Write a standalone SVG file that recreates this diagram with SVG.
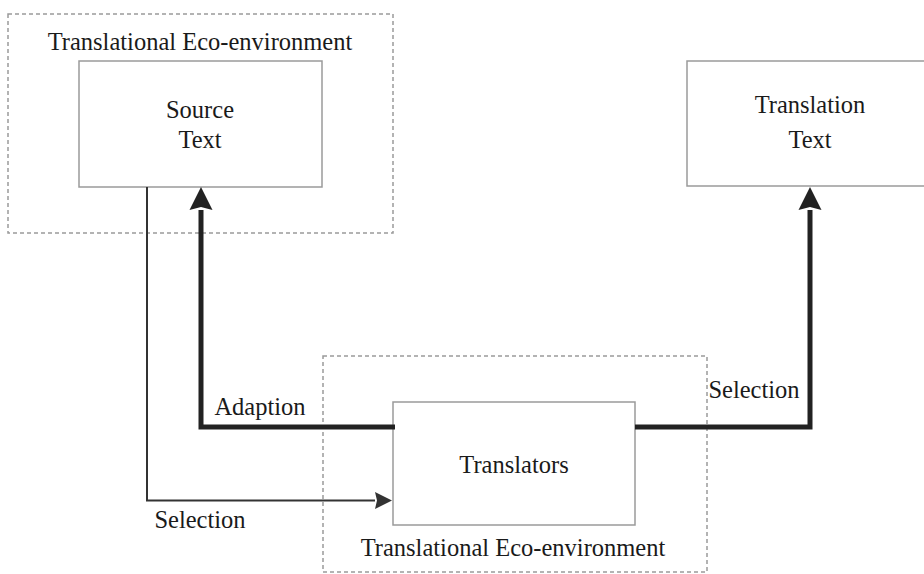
<svg xmlns="http://www.w3.org/2000/svg" width="924" height="574" viewBox="0 0 924 574">
<defs>
<style>
.env{fill:none;stroke:#9a9a9a;stroke-width:1.5;stroke-dasharray:4 3}
.box{fill:#fff;stroke:#9a9a9a;stroke-width:1.5}
.t{font-family:"Liberation Serif","Times New Roman",serif;font-size:24.5px;fill:#1a1a1a;text-anchor:middle}
.thick{fill:none;stroke:#222;stroke-width:5;stroke-linejoin:miter}
.thin{fill:none;stroke:#333;stroke-width:2}
</style>
<marker id="bigArrow" markerUnits="userSpaceOnUse" markerWidth="24" markerHeight="24" refX="0" refY="11.5" orient="auto" viewBox="0 0 24 23">
<path d="M0,0 L23,11.5 L0,23 L3,11.5 Z" fill="#222"/>
</marker>
<marker id="smallArrow" markerUnits="userSpaceOnUse" markerWidth="18" markerHeight="18" refX="0" refY="8.5" orient="auto" viewBox="0 0 18 17">
<path d="M0,0 L17,8.5 L0,17 L2,8.5 Z" fill="#333"/>
</marker>
</defs>
<g id="env-top">
<rect class="env" x="8" y="14" width="385" height="219"/>
<text class="t" x="200" y="50">Translational Eco-environment</text>
</g>
<g id="env-bottom">
<rect class="env" x="323" y="356" width="384" height="216"/>
<text class="t" x="513" y="556">Translational Eco-environment</text>
</g>
<g id="source-text">
<rect class="box" x="79" y="61" width="243" height="126"/>
<text class="t" x="200" y="118">Source</text>
<text class="t" x="200" y="148">Text</text>
</g>
<g id="translation-text">
<rect class="box" x="687" y="61" width="250" height="125"/>
<text class="t" x="810" y="113">Translation</text>
<text class="t" x="810" y="148">Text</text>
</g>
<g id="translators">
<rect class="box" x="393" y="402" width="242" height="123"/>
<text class="t" x="514" y="473">Translators</text>
</g>
<g id="connectors">
<path class="thick" d="M395,427 L201,427 L201,210" marker-end="url(#bigArrow)"/>
<path class="thick" d="M635,427 L810,427 L810,210" marker-end="url(#bigArrow)"/>
<path class="thin" d="M147,187 L147,500.5 L375,500.5" marker-end="url(#smallArrow)"/>
<text class="t" x="260" y="415">Adaption</text>
<text class="t" x="754" y="398">Selection</text>
<text class="t" x="200" y="528">Selection</text>
</g>
</svg>
